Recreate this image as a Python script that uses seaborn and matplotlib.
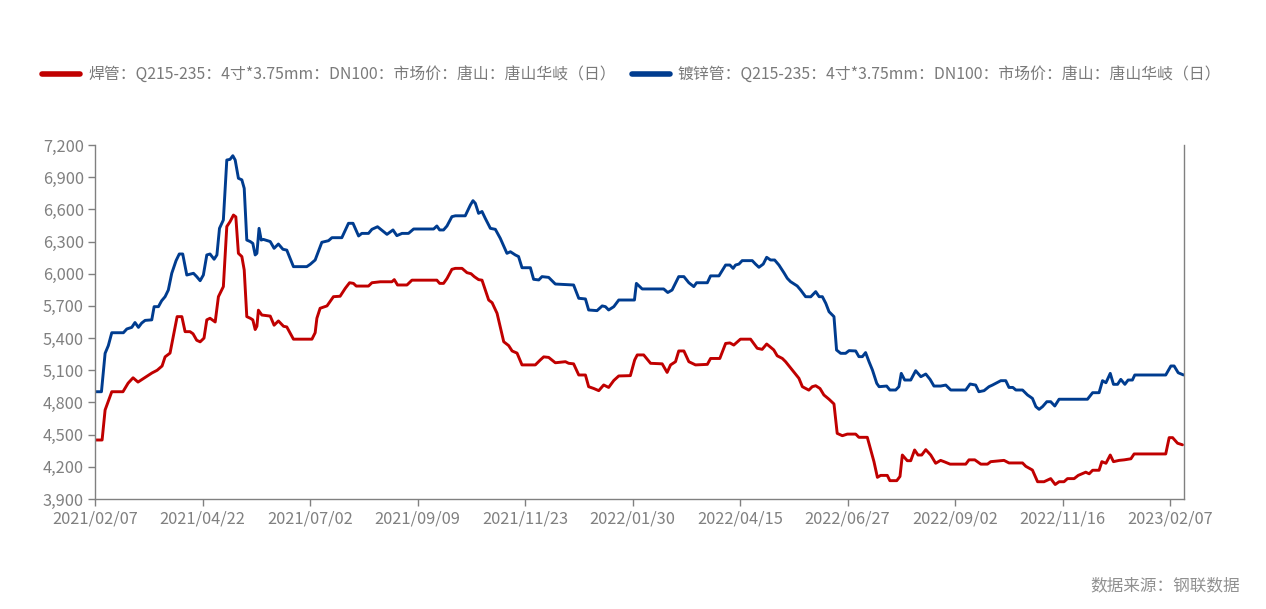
import matplotlib
matplotlib.use("Agg")
import matplotlib.pyplot as plt
import seaborn as sns
import pandas as pd
from matplotlib.ticker import FuncFormatter, FixedLocator

# ---------------- data (trading-day index, price in yuan/t) ----------------
red_label = "焊管：Q215-235：4寸*3.75mm：DN100：市场价：唐山：唐山华岐（日）"
blue_label = "镀锌管：Q215-235：4寸*3.75mm：DN100：市场价：唐山：唐山华岐（日）"

red_idx = [0, 3.3, 4.7, 7.8, 13, 15.4, 17.7, 20, 22.3, 26.5, 28.9, 31.2, 32.6, 34.9, 37.2, 38.2,
           40.4, 41.9, 44.2, 45.6, 47.3, 48.9, 50.7, 52, 53.5, 55.9, 57.4, 59.7, 61.3, 62.8, 64.4,
           65.5, 66.7, 68.3, 69.4, 70.6, 72.2, 73.4, 74.5, 75.3, 76, 77.6, 81.5, 83.3, 85.3, 87.7,
           89.2, 92.3, 100.9, 102.4, 103.2, 104.7, 107.9, 110.9, 114, 116.4, 118.4, 120.2, 121.5,
           127.2, 128.8, 132.7, 138.1, 139.2, 140.7, 145.1, 147.4, 159, 160.3, 162.1, 163.7, 166,
           167.6, 170.7, 173, 174.9, 176.4, 178.4, 180, 183.1, 184.7, 187, 190.1, 192.4, 194, 196.3,
           198.6, 204.8, 207.1, 208.7, 211, 214.1, 218.8, 220.3, 222.6, 225, 228.1, 229.6, 232,
           234.3, 236.6, 238.9, 241.3, 243.6, 249, 251, 252.2, 255.2, 258.4, 263.8, 266.1, 267.7,
           270, 271.5, 273.9, 276.2, 279.3, 284.8, 286.3, 290.6, 293.3, 295.3, 297.1, 300.2, 304.9,
           308, 310.3, 312.4, 315.7, 317.3, 319.7, 321.2, 324.3, 327.4, 329, 332, 333.6, 335.2,
           337.2, 339, 341.4, 343.7, 345.2, 347.6, 349.9, 353.8, 355.3, 359.2, 360.8, 362.3, 363.9,
           365.4, 368.5, 369.7, 372.9, 374.4, 375.5, 377.8, 379.4, 381.2, 382.8, 384.5, 386.4,
           388.7, 391, 393.3, 394.9, 397.7, 405, 406.5, 409.2, 412, 415.1, 416.6, 422.8, 425.1,
           431.4, 432.9, 436, 438.4, 441.4, 444.5, 446.6, 448.4, 450.7, 452.3, 455.4, 457.3, 460.8,
           462.4, 464, 467, 468.3, 470.2, 472.2, 473.7, 476.3, 478.7, 481.8, 483.3, 498, 499.6,
           501.2, 503.5, 505.8]
red_val = [4450, 4450, 4730, 4900, 4900, 4980, 5030, 4990, 5020, 5075, 5100, 5140, 5225, 5260, 5500,
           5600, 5600, 5460, 5460, 5440, 5380, 5365, 5400, 5570, 5585, 5550, 5786, 5880, 6440, 6485,
           6547, 6530, 6190, 6160, 6035, 5600, 5585, 5570, 5480, 5510, 5660, 5615, 5605, 5520, 5560,
           5510, 5504, 5390, 5390, 5450, 5585, 5678, 5700, 5786, 5790, 5864, 5916, 5910, 5885, 5885,
           5916, 5925, 5925, 5945, 5895, 5895, 5940, 5940, 5910, 5910, 5955, 6041, 6050, 6050, 6010,
           6000, 5973, 5945, 5940, 5755, 5730, 5631, 5366, 5330, 5280, 5260, 5150, 5150, 5196, 5225,
           5220, 5170, 5180, 5165, 5160, 5056, 5056, 4947, 4930, 4910, 4963, 4940, 5005, 5047, 5050,
           5196, 5243, 5243, 5165, 5160, 5080, 5150, 5180, 5280, 5280, 5180, 5150, 5155, 5210, 5210,
           5350, 5355, 5335, 5390, 5390, 5305, 5295, 5345, 5290, 5235, 5210, 5180, 5102, 5025, 4947,
           4915, 4947, 4956, 4930, 4870, 4830, 4786, 4512, 4490, 4505, 4505, 4475, 4475, 4357, 4248,
           4102, 4120, 4120, 4071, 4071, 4110, 4310, 4257, 4257, 4357, 4310, 4310, 4360, 4310, 4233,
           4260, 4248, 4225, 4225, 4265, 4265, 4225, 4225, 4248, 4260, 4236, 4236, 4205, 4170, 4061,
           4061, 4090, 4035, 4061, 4061, 4090, 4090, 4120, 4150, 4135, 4168, 4168, 4248, 4233, 4310,
           4248, 4260, 4265, 4275, 4320, 4320, 4472, 4472, 4420, 4405]

blue_idx = [0, 3, 4.7, 6.2, 7.8, 13.2, 14.8, 17.1, 18.6, 20.2, 21.7, 23.3, 26.4, 27.5, 29.5, 31, 32.6,
            34.1, 35.7, 37.7, 39.2, 40.8, 42.7, 45.8, 47.3, 48.9, 50.4, 52, 53.5, 55.4, 56.7, 57.9,
            59.7, 61.3, 62.8, 64.1, 65.2, 66.7, 68.3, 69.4, 70.6, 72.2, 73.4, 74.5, 75.3, 76.3, 77.3,
            78.3, 81.5, 83.3, 85.3, 87.4, 89.2, 92.3, 98.5, 100.1, 102.4, 105.5, 108.6, 110.2, 114.8,
            117.9, 120, 122.6, 124.1, 127.2, 128.8, 131.4, 135.8, 138.6, 140.4, 142.8, 145.8, 148.2,
            157.5, 159, 160.3, 162.1, 163.7, 166, 167.6, 172.2, 174.6, 175.8, 176.9, 178.4, 180,
            181.5, 183.9, 186.2, 188.5, 191.6, 193.2, 195.5, 197, 198.6, 202.5, 204, 206.4, 207.9,
            211, 214.1, 222.6, 225, 228.1, 229.6, 233.5, 235.9, 237.4, 238.9, 241.3, 243.6, 250.9,
            251.8, 254.5, 264.5, 266.4, 268.4, 271.5, 273.9, 276.2, 278.5, 279.8, 284.8, 286.3,
            290.2, 293.3, 295.3, 296.8, 297.9, 299.5, 301, 305.7, 307.2, 308.8, 310.8, 312.4, 314.2,
            316.1, 318.1, 320.4, 322, 323.5, 326.6, 328.2, 330.5, 332.9, 335.2, 336.8, 338.3, 339.9,
            341.4, 343.7, 344.9, 346.8, 349.1, 350.7, 353.8, 355.3, 356.9, 358.4, 360, 361.6, 363.6,
            364.7, 368.2, 369.7, 372.4, 373.9, 375, 376.6, 379.4, 381.7, 384.1, 386.4, 388.4, 390.2,
            393.3, 395.7, 398, 405, 407, 409.6, 411.1, 413.5, 415.8, 417.4, 421.3, 423.6, 425.1,
            426.9, 428.3, 431.4, 433.7, 436, 437.6, 439.1, 440.7, 442.7, 444.5, 446.4, 448.4, 461.6,
            464, 467, 468.6, 470.2, 472.2, 473.7, 475.6, 477.1, 479, 480.5, 482.5, 483.6, 498, 500.4,
            501.9, 503.8, 506.3]
blue_val = [4900, 4900, 5258, 5330, 5450, 5450, 5485, 5500, 5545, 5500, 5540, 5565, 5570, 5693, 5693,
            5748, 5786, 5848, 6004, 6122, 6184, 6184, 5988, 6004, 5973, 5935, 5988, 6175, 6184, 6135,
            6175, 6423, 6501, 7060, 7066, 7100, 7060, 6890, 6875, 6796, 6314, 6300, 6283, 6175, 6190,
            6423, 6314, 6320, 6300, 6237, 6277, 6228, 6220, 6066, 6066, 6088, 6128, 6293, 6308, 6336,
            6336, 6470, 6470, 6352, 6376, 6376, 6414, 6438, 6367, 6408, 6355, 6376, 6376, 6417, 6417,
            6445, 6408, 6408, 6445, 6532, 6540, 6540, 6641, 6681, 6656, 6563, 6580, 6517, 6423, 6414,
            6330, 6190, 6205, 6175, 6160, 6056, 6056, 5948, 5942, 5973, 5966, 5904, 5895, 5771, 5765,
            5662, 5656, 5700, 5693, 5662, 5693, 5755, 5755, 5910, 5858, 5858, 5825, 5848, 5973, 5973,
            5916, 5880, 5916, 5916, 5980, 5980, 6081, 6081, 6050, 6081, 6090, 6122, 6122, 6090, 6060,
            6090, 6153, 6128, 6128, 6081, 6010, 5957, 5926, 5886, 5848, 5786, 5785, 5833, 5786, 5786,
            5724, 5646, 5600, 5289, 5258, 5258, 5283, 5280, 5227, 5227, 5265, 5180, 5102, 4978, 4947,
            4953, 4916, 4916, 4947, 5071, 5009, 5009, 5096, 5040, 5065, 5015, 4953, 4953, 4962, 4916,
            4916, 4972, 4962, 4900, 4910, 4947, 4962, 5003, 5003, 4940, 4940, 4916, 4916, 4870, 4838,
            4761, 4736, 4761, 4807, 4807, 4767, 4830, 4830, 4891, 4891, 5003, 4984, 5071, 4969, 4969,
            5015, 4969, 5009, 5009, 5056, 5056, 5140, 5140, 5077, 5056]

tick_idx = [0, 50, 100, 150, 200, 250, 300, 350, 400, 450, 500]
tick_labels = ["2021/02/07", "2021/04/22", "2021/07/02", "2021/09/09", "2021/11/23",
               "2022/01/30", "2022/04/15", "2022/06/27", "2022/09/02", "2022/11/16", "2023/02/07"]
y_ticks = [3900, 4200, 4500, 4800, 5100, 5400, 5700, 6000, 6300, 6600, 6900, 7200]
source_text = "数据来源：钢联数据"

# ---------------- build long-form frame ----------------
df = pd.concat([
    pd.DataFrame({"idx": red_idx, "price": red_val, "series": red_label}),
    pd.DataFrame({"idx": blue_idx, "price": blue_val, "series": blue_label}),
], ignore_index=True)

sns.set_theme(style="white")
plt.rcParams["font.family"] = ["Noto Sans CJK SC", "DejaVu Sans"]
plt.rcParams["axes.unicode_minus"] = False

GRAY = "#808080"
fig = plt.figure(figsize=(12.66, 6.09), dpi=100)
ax = fig.add_axes([95 / 1266, 1 - 499 / 609, (1184 - 95) / 1266, (499 - 145) / 609])

sns.lineplot(data=df, x="idx", y="price", hue="series", estimator=None, sort=False,
             palette={red_label: "#C00000", blue_label: "#003C8F"},
             linewidth=2.1, ax=ax, legend=True, solid_joinstyle="round",
             solid_capstyle="round")

ax.set_xlim(0, 506.5)
ax.set_ylim(3900, 7200)
ax.yaxis.set_major_locator(FixedLocator(y_ticks))
ax.yaxis.set_major_formatter(FuncFormatter(lambda v, p: f"{int(v):,}"))
ax.set_xticks(tick_idx)
ax.set_xticklabels(tick_labels)
ax.set_xlabel("")
ax.set_ylabel("")

for side in ["left", "bottom", "right"]:
    ax.spines[side].set_visible(True)
    ax.spines[side].set_color(GRAY)
    ax.spines[side].set_linewidth(1.0)
ax.spines["top"].set_visible(False)
ax.tick_params(axis="both", which="major", direction="out", length=5, width=1,
               color=GRAY, labelcolor=GRAY, labelsize=11.8, left=True, bottom=True)
ax.tick_params(axis="y", pad=3)
ax.tick_params(axis="x", pad=3)
ax.grid(False)

handles, labels = ax.get_legend_handles_labels()
ax.legend_.remove()
leg = fig.legend(handles, labels, loc="center", bbox_to_anchor=(0.499, 0.877), ncol=2,
                 frameon=False, fontsize=11.4, handlelength=2.4, handletextpad=0.5,
                 columnspacing=1.0)
for t in leg.get_texts():
    t.set_color("#7A7A7A")
for h in leg.legend_handles:
    h.set_linewidth(4)

fig.text(1240 / 1266, 1 - 586 / 609, source_text, ha="right", va="center",
         fontsize=12, color="#909090")

fig.savefig("out.png", dpi=100)
